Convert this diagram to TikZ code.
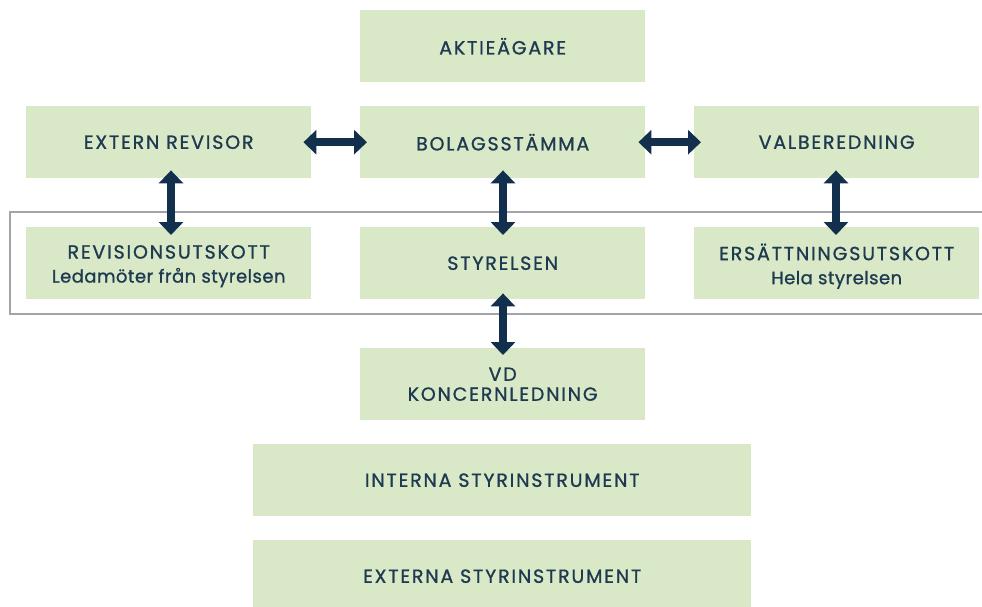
\documentclass[tikz,border=0pt]{standalone}
\usepackage{fontspec}
\setmainfont{Poppins}[LetterSpace=2.5,FakeBold=1.0]
\newfontfamily\capsfont{Poppins}[LetterSpace=9.5,FakeBold=1.0]
\usetikzlibrary{arrows.meta}
\definecolor{boxgreen}{HTML}{D9E8C6}
\definecolor{navy}{HTML}{12304D}
\definecolor{txt}{HTML}{1D3A50}
\definecolor{framegray}{HTML}{A3A3AA}
\newcommand{\lowtxt}[1]{{\fontsize{18}{24}\rmfamily #1}}
\begin{document}
\begin{tikzpicture}[x=1pt,y=-1pt,
  gbox/.style={fill=boxgreen, draw=none, inner sep=0pt, minimum width=285pt, minimum height=72pt, anchor=north west, text=txt, font=\fontsize{19}{24}\capsfont, align=center},
  widebox/.style={gbox, minimum width=498pt},
  btxt/.style={text=txt, inner sep=0pt, align=center, font=\fontsize{19}{24}\capsfont},
  dbl/.style={navy, line width=8pt, {Triangle[length=13pt,width=24pt]}-{Triangle[length=13pt,width=24pt]}}]
\useasboundingbox (0,0) rectangle (982,607);
\draw[framegray, line width=2pt] (990,212) -- (10,212) -- (10,314) -- (990,314);
\node[gbox] (akt) at (360,10) {AKTIEÄGARE};
\node[gbox] (ext) at (26,106) {EXTERN REVISOR};
\node[gbox] (bol) at (360,106) {BOLAGSSTÄMMA};
\node[gbox] (val) at (694,106) {VALBEREDNING};
\node[gbox] (rev) at (26,227) {};
\node[btxt] (revt) at ([yshift=-3pt]rev.center) {REVISIONSUTSKOTT\\\lowtxt{Ledamöter från styrelsen}};
\node[gbox] (sty) at (360,227) {STYRELSEN};
\node[gbox] (ers) at (694,227) {};
\node[btxt] (erst) at ([yshift=-3pt]ers.center) {ERSÄTTNINGSUTSKOTT\\\lowtxt{Hela styrelsen}};
\node[gbox, font=\fontsize{19}{20}\capsfont] (vd) at (360,348) {VD\\KONCERNLEDNING};
\node[widebox] (int) at (253,444) {INTERNA STYRINSTRUMENT};
\node[widebox] (exs) at (253,540) {EXTERNA STYRINSTRUMENT};
\draw[dbl] ([xshift=-8pt]ext.east) -- ([xshift=7pt]bol.west);
\draw[dbl] ([xshift=-7pt]bol.east) -- ([xshift=7pt]val.west);
\draw[dbl] ([yshift=8pt]ext.south -| 171,0) -- ([yshift=-8pt]rev.north -| 171,0);
\draw[dbl] ([yshift=8pt]bol.south -| 503,0) -- ([yshift=-8pt]sty.north -| 503,0);
\draw[dbl] ([yshift=8pt]val.south -| 836,0) -- ([yshift=-8pt]ers.north -| 836,0);
\draw[dbl] ([yshift=6pt]sty.south -| 503,0) -- ([yshift=-7pt]vd.north -| 503,0);
\end{tikzpicture}
\end{document}
